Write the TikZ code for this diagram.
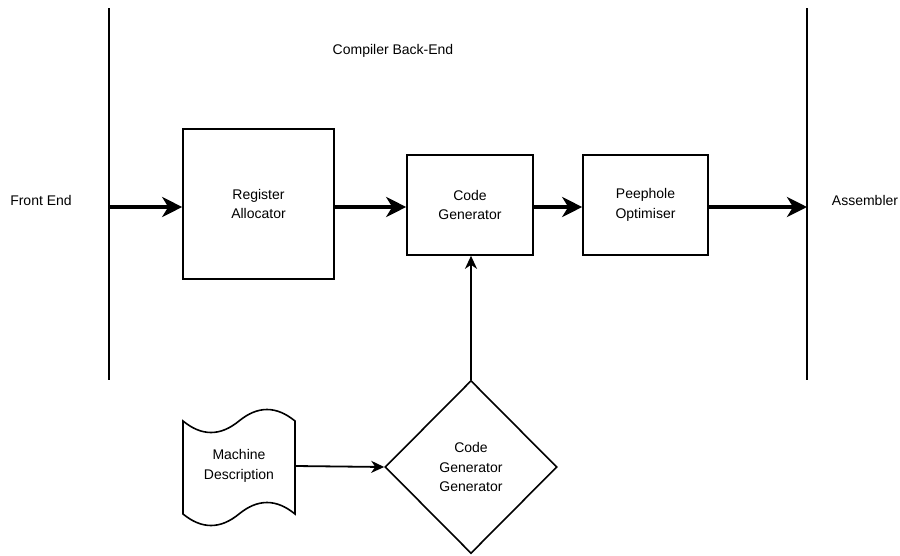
\documentclass[tikz,border=0pt]{standalone}
\usepackage{fontspec}
\setmainfont{Liberation Sans}
\usetikzlibrary{arrows.meta,shapes.geometric}
\begin{document}
\begin{tikzpicture}[x=1pt,y=-1pt,
  lbl/.style={font=\fontsize{14}{19.5}\selectfont, align=center},
  stagebox/.style={draw, line width=1.6pt, lbl, inner sep=0pt},
  bigflow/.style={line width=3.6pt, -{Stealth[length=20pt,width=20pt,inset=6pt]}},
  thinflow/.style={line width=1.8pt, -{Stealth[length=13pt,width=12pt,inset=4pt]}},
  border/.style={line width=2.6pt}]
\useasboundingbox (0,0) rectangle (900,555);

% phase boundaries
\coordinate (lt) at (109,8);
\coordinate (lb) at (109,380);
\coordinate (rt) at (807,8);
\coordinate (rb) at (807,380);
\draw[border] (lt) -- (lb);
\draw[border] (rt) -- (rb);

\node[lbl] (title) at (393,51) {Compiler Back-End};
\node[lbl] (fe) at (41,200) {Front End};
\node[lbl] (asm) at (865,200) {Assembler};

% back-end stages
\node[stagebox, minimum width=151pt, minimum height=150pt] (ra) at (258.5,204) {Register\\Allocator};
\node[stagebox, minimum width=126pt, minimum height=100pt] (cg) at (470,205) {Code\\Generator};
\node[stagebox, minimum width=125pt, minimum height=100pt] (po) at (645.5,205) {Peephole\\Optimiser};

\coordinate (in) at (109,207);
\coordinate (out) at (807,207);
\draw[bigflow] (in) -- (ra.west |- in);
\draw[bigflow] (ra.east |- in) -- (cg.west |- in);
\draw[bigflow] (cg.east |- in) -- (po.west |- in);
\draw[bigflow] (po.east |- in) -- (out);

% generator generator
\node[draw, diamond, line width=1.6pt, minimum width=172pt, minimum height=173pt, inner sep=0pt, lbl] (cgg) at (471,467) {Code\\Generator\\Generator};
\draw[thinflow] (cgg.north) -- (cg.south -| cgg.north);

% machine description (tape)
\draw[line width=1.6pt]
  (183,421) .. controls (201.67,436.33) and (220.33,436.33) .. (239,421)
            .. controls (257.67,405.67) and (276.33,405.67) .. (295,421)
  -- (295,514) .. controls (276.33,498.67) and (257.67,498.67) .. (239,514)
            .. controls (220.33,529.33) and (201.67,529.33) .. (183,514)
  -- cycle;
\node[lbl, minimum width=112pt, minimum height=93pt, inner sep=0pt] (md) at (239,466) {Machine\\Description};
\draw[thinflow] (md.east) -- (cgg.west);
\end{tikzpicture}
\end{document}
